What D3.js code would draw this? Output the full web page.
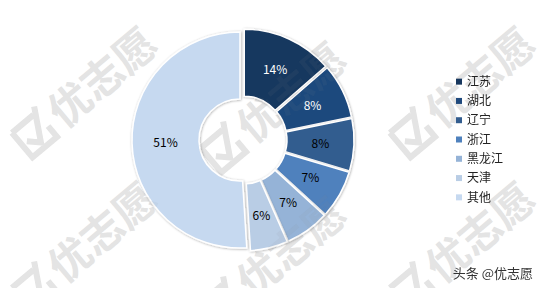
<!DOCTYPE html>
<html>
<head>
<meta charset="utf-8">
<script src="https://cdn.jsdelivr.net/npm/d3@7"></script>
<style>
  body { margin: 0; background: #fff; }
  svg { display: block; font-family: "Noto Sans CJK SC", "Noto Sans", sans-serif; }
</style>
</head>
<body>
<div id="chart"></div>
<script>
var provinces = ["江苏", "湖北", "辽宁", "浙江", "黑龙江", "天津", "其他"];
var shares = [13.6, 8.2, 7.8, 7.2, 6.6, 5.6, 51.0];
var labels = ["14%", "8%", "8%", "7%", "7%", "6%", "51%"];
var colors = ["#17375e", "#1f497d", "#335d8f", "#4f81bd", "#95b3d7", "#b9cde5", "#c6d9f0"];
var labelColors = ["#fff", "#fff", "#000", "#000", "#000", "#000", "#000"];
var marks = [[82, 95], [271, 110], [460, 95], [82, 250], [271, 265], [460, 250]];

function init() {
    var w = 541;
    var h = 288;
    var cx = 243, cy = 140;
    var outer = 108, inner = 41, explode = 3;

    var svg = d3.select("#chart").append("svg")
                .attr("width", w)
                .attr("height", h);

    var defs = svg.append("defs");
    defs.append("filter").attr("id", "shadow")
        .attr("x", "-20%").attr("y", "-20%").attr("width", "140%").attr("height", "140%")
        .append("feDropShadow")
        .attr("dx", 0.5).attr("dy", 0.5)
        .attr("stdDeviation", 1.3)
        .attr("flood-color", "#000")
        .attr("flood-opacity", 0.35);

    // watermark drawing
    function drawMarks(layer, fill, opacity) {
        var g = layer.append("g").attr("opacity", opacity);
        marks.forEach(function(m) {
            var wm = g.append("g").attr("transform", `translate(${m[0]},${m[1]}) rotate(-40)`);
            wm.append("path")
                .attr("d", "M-78,-16 L-50,-16 M-78,-16 L-78,16 L-46,16 L-46,2 M-72,0 L-62,10 L-44,-22")
                .attr("fill", "none")
                .attr("stroke", fill)
                .attr("stroke-width", 6);
            wm.append("text")
                .attr("x", -36).attr("y", 15)
                .attr("font-size", 42)
                .attr("font-weight", "bold")
                .attr("fill", fill)
                .text("优志愿");
        });
    }
    drawMarks(svg, "#ececec", 1);

    var pie = d3.pie().sort(null).value(d => d);
    var arcs = pie(shares);
    var arc = d3.arc().innerRadius(inner).outerRadius(outer);
    var labelArc = d3.arc().innerRadius(inner).outerRadius(outer);

    var chart = svg.append("g").attr("transform", `translate(${cx},${cy})`);

    var slices = chart.selectAll("g.slice")
        .data(arcs)
        .enter()
        .append("g")
        .attr("class", "slice")
        .attr("transform", function(d) {
            var a = (d.startAngle + d.endAngle) / 2;
            return `translate(${Math.sin(a) * explode},${-Math.cos(a) * explode})`;
        });

    slices.append("path")
        .attr("d", arc)
        .attr("fill", (d, i) => colors[i])
        .attr("stroke", "#fff")
        .attr("stroke-width", 1.5)
        .attr("filter", "url(#shadow)");

    slices.append("text")
        .attr("transform", d => `translate(${labelArc.centroid(d)})`)
        .attr("text-anchor", "middle")
        .attr("dy", "0.35em")
        .attr("font-size", 12)
        .attr("fill", (d, i) => labelColors[i])
        .text((d, i) => labels[i]);

    drawMarks(svg, "#888", 0.08);

    // legend
    var y = d3.scaleBand().domain(provinces).range([72, 207]);
    var legend = svg.append("g");
    var items = legend.selectAll("g")
        .data(provinces)
        .enter()
        .append("g")
        .attr("transform", d => `translate(456,${y(d) + y.bandwidth() / 2})`);
    items.append("rect")
        .attr("x", 0).attr("y", -3)
        .attr("width", 6).attr("height", 6)
        .attr("fill", (d, i) => colors[i]);
    items.append("text")
        .attr("x", 11)
        .attr("dy", "0.35em")
        .attr("font-size", 12)
        .attr("fill", "#222")
        .text(d => d);

    svg.append("text")
        .attr("x", 533).attr("y", 278)
        .attr("text-anchor", "end")
        .attr("font-size", 13)
        .attr("fill", "#333")
        .text("头条 @优志愿");
}

window.onload = init;
</script>
</body>
</html>
